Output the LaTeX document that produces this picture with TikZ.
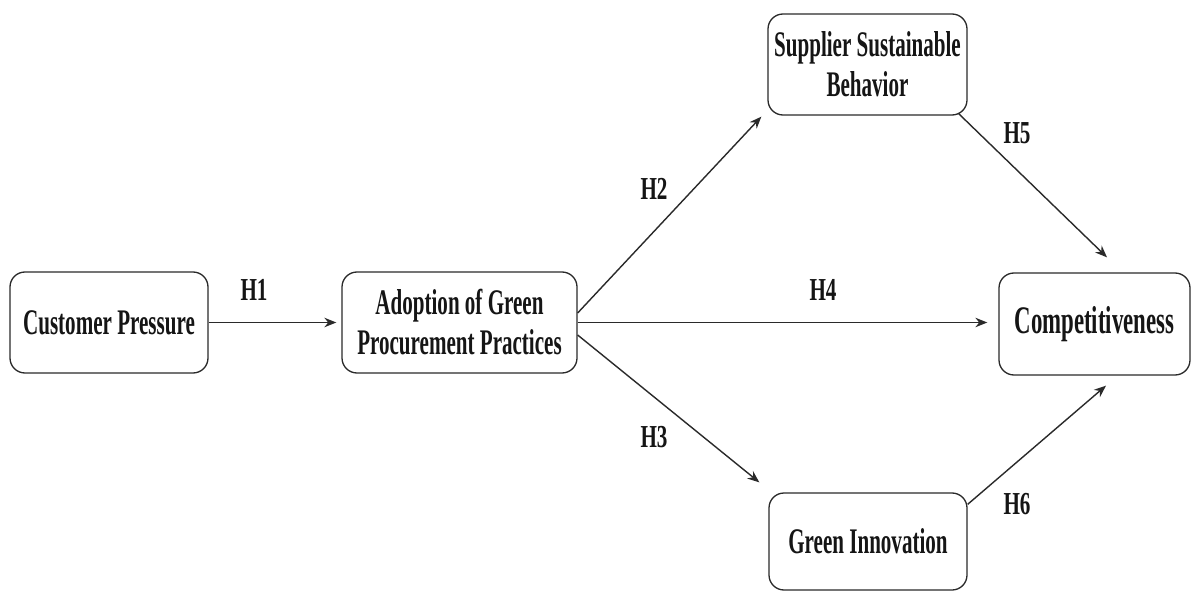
\documentclass[tikz,border=0pt]{standalone}
\usepackage{fontspec}
\setmainfont{Liberation Serif}[FakeStretch=0.66]
\newfontfamily\boxfont{Liberation Serif}[FakeStretch=0.585]
\usetikzlibrary{arrows.meta,calc}
\definecolor{ink}{HTML}{151515}
\definecolor{edge}{HTML}{2A2A2A}
\tikzset{
  construct/.style={draw=edge, line width=1.3pt, rounded corners=15pt,
    inner sep=0pt, align=center, text=ink,
    font=\boxfont\bfseries\fontsize{36}{40}\selectfont},
  path arrow/.style={draw=edge, line width=1.4pt,
    -{Stealth[length=12pt,width=9.5pt]}},
  hyp/.style={text=ink, inner sep=0pt, font=\bfseries\fontsize{32}{38}\selectfont}
}
\begin{document}
\begin{tikzpicture}[x=1pt,y=-1pt]
  \useasboundingbox[fill=white] (0,0) rectangle (1192,591);

  % constructs
  \node[construct, minimum width=198pt, minimum height=101pt] (cust) at (109,322.5) {Customer Pressure};
  \node[construct, minimum width=235pt, minimum height=101pt] (adopt) at (459.5,322.5) {Adoption of Green\\Procurement Practices};
  \node[construct, minimum width=199pt, minimum height=101pt] (sup) at (867.5,64.5) {Supplier Sustainable\\Behavior};
  \node[construct, minimum width=191pt, minimum height=102pt,
        font=\boxfont\bfseries\fontsize{39}{44}\selectfont] (comp) at (1094.5,324) {Competitiveness};
  \node[construct, minimum width=198pt, minimum height=97pt] (green) at (868,541.5) {Green Innovation};

  % hypothesised paths
  \draw[path arrow, shorten >=5pt] (cust.east) -- (adopt.west);
  \draw[path arrow] ($(adopt.east)+(0,-9.5)$) -- ($(sup.south west)+(-6,1)$);
  \draw[path arrow] ($(adopt.east)+(0,12.5)$) -- ($(green.north west)+(-9,-10)$);
  \draw[path arrow, shorten >=11pt] (adopt.east) -- (adopt.east -| comp.west);
  \draw[path arrow] ($(sup.south east)+(-9,-2)$) -- ($(comp.north)+(12.5,-15)$);
  \draw[path arrow] ($(green.north east)+(0,12)$) -- ($(comp.south)+(11.5,10)$);

  % hypothesis labels
  \node[hyp] (h1) at (254,290) {H1};
  \node[hyp] (h2) at (654,189) {H2};
  \node[hyp] (h3) at (654,437) {H3};
  \node[hyp] (h4) at (823,290) {H4};
  \node[hyp] (h5) at (1017,133) {H5};
  \node[hyp] (h6) at (1017,504) {H6};
\end{tikzpicture}
\end{document}
